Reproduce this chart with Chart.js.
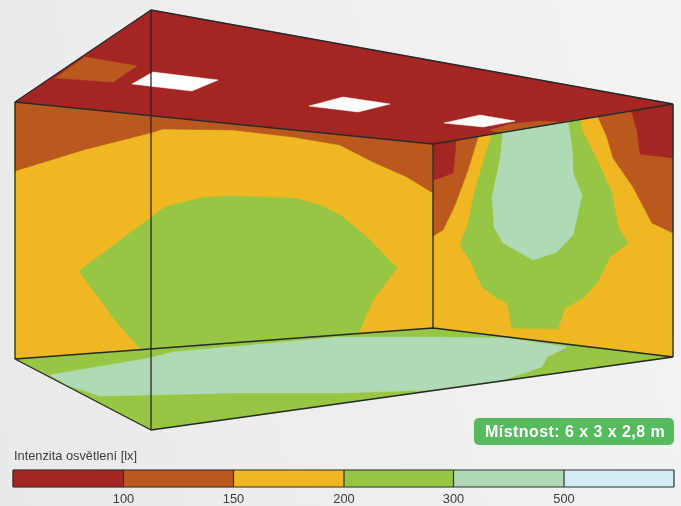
<!DOCTYPE html>
<html>
<head>
<meta charset="utf-8">
<style>
  html, body { margin: 0; padding: 0; }
  body { width: 681px; height: 506px; overflow: hidden; background: linear-gradient(75deg, #e9e9e9 0%, #eeeeee 45%, #f2f3f3 100%); }
  canvas { display: block; }
</style>
<script src="https://cdn.jsdelivr.net/npm/chart.js@4/dist/chart.umd.min.js"></script>
</head>
<body>
<canvas id="room" width="681" height="506"></canvas>
<script>
// illuminance zones, as [x, y] outlines in picture units
const ceiling = [[15,102],[151,10],[673,104],[433,144]];
const ceilingPatchLeft = [[85,57],[137,66],[113,82],[55,78]];
const ceilingPatchRight = [[490,130],[510,124],[540,121],[558,122],[500,133]];
const lampA = [[132,84],[153,72],[218,80],[192,91]];
const lampB = [[309,106],[343,97],[390,104],[358,112]];
const lampC = [[444,123],[480,115],[515,121],[483,127]];

const backWall = [[15,102],[433,144],[433,328],[15,359]];
const backOrange = [[15,102],[433,144],[433,193],[407,177],[373,162],[340,145],[293,137],[233,130],[163,129],[150,133],[83,150],[15,171]];
const backGreen = [[79,271],[150,218],[165,207],[200,198],[227,196],[293,198],[320,205],[340,215],[367,237],[397,268],[373,300],[357,336],[142,351],[115,320]];

const sideWall = [[433,144],[673,104],[673,357],[433,328]];
const sideOrangeLeft = [[433,144],[478,137],[468,170],[455,205],[443,230],[433,236]];
const sideRedLeft = [[433,144],[456,140],[455,155],[453,173],[434,180]];
const sideOrangeRight = [[598,117],[607,137],[613,158],[633,187],[652,223],[673,233],[673,104]];
const sideRedRight = [[631,110],[637,130],[640,154],[673,158],[673,104]];
const sideGreen = [[492,134],[483,163],[475,190],[468,223],[460,245],[470,260],[482,287],[497,298],[507,303],[512,328],[558,329],[565,308],[583,298],[597,283],[610,257],[628,243],[618,227],[612,193],[597,160],[582,130],[580,119]];
const sideLight = [[503,132],[500,160],[492,197],[494,227],[503,243],[533,260],[557,252],[573,235],[582,195],[573,173],[572,147],[568,122]];

const floorPlane = [[15,359],[433,328],[673,357],[151,430]];
const floorLight = [[50,375],[150,358],[173,352],[340,337],[433,337],[507,338],[567,347],[547,357],[542,367],[503,380],[433,390],[340,393],[233,393],[150,395],[100,396],[67,385]];

const roomEdges = [
  [[15,102],[151,10],[673,104],[433,144],[15,102],[15,359],[433,328],[673,357],[151,430],[15,359]],
  [[151,10],[151,430]],
  [[433,144],[433,328]],
  [[673,104],[673,357]]
];

const legendTitle = "Intenzita osvětlení [lx]";
const legendEdges = [13, 123.5, 233.5, 344, 453.5, 564, 674];
const legendTicks = ["100", "150", "200", "300", "500"];
const badgeText = "Místnost: 6 x 3 x 2,8 m";

const RED = "#a42622", ORANGE = "#b9591d", YELLOW = "#efb722", GREEN = "#97c644", LIGHT = "#b0dab6", PALE = "#d3ebf3";
const legendColors = [RED, ORANGE, YELLOW, GREEN, LIGHT, PALE];

function shape(points, color) {
  return {
    data: points.concat([points[0]]).map(p => ({ x: p[0], y: p[1] })),
    backgroundColor: color,
    borderColor: color,
    borderWidth: 0.5,
    pointRadius: 0,
    fill: "shape",
    tension: 0
  };
}

function edge(points, color, width) {
  return {
    data: points.map(p => ({ x: p[0], y: p[1] })),
    borderColor: color,
    borderWidth: width,
    borderJoinStyle: "bevel",
    pointRadius: 0,
    fill: false,
    tension: 0
  };
}

// painted back to front
const layers = [
  shape(ceiling, RED),
  shape(ceilingPatchLeft, ORANGE),
  shape(ceilingPatchRight, ORANGE),
  shape(lampA, "#ffffff"),
  shape(lampB, "#ffffff"),
  shape(lampC, "#ffffff"),
  shape(backWall, YELLOW),
  shape(backOrange, ORANGE),
  shape(backGreen, GREEN),
  shape(sideWall, YELLOW),
  shape(sideOrangeRight, ORANGE),
  shape(sideRedRight, RED),
  shape(sideOrangeLeft, ORANGE),
  shape(sideRedLeft, RED),
  shape(sideGreen, GREEN),
  shape(sideLight, LIGHT),
  shape(floorPlane, GREEN),
  shape(floorLight, LIGHT)
];

roomEdges.forEach(e => layers.push(edge(e, "#26282a", 1.3)));

legendColors.forEach((c, i) => {
  const a = legendEdges[i], b = legendEdges[i + 1];
  layers.push(shape([[a,470],[b,470],[b,487],[a,487]], c));
});
legendEdges.forEach(x => layers.push(edge([[x,470],[x,487]], "#333333", 1.2)));
layers.push(edge([[13,470],[674,470]], "#333333", 1.2));
layers.push(edge([[13,487],[674,487]], "#333333", 1.2));

const roomLabels = {
  id: "roomLabels",
  afterDraw(chart) {
    const { ctx, scales } = chart;
    const px = v => scales.x.getPixelForValue(v);
    const py = v => scales.y.getPixelForValue(v);
    ctx.save();
    ctx.fillStyle = "#55bb5e";
    ctx.beginPath();
    ctx.roundRect(px(474), py(418), px(674) - px(474), py(445) - py(418), 5);
    ctx.fill();
    ctx.textBaseline = "alphabetic";
    ctx.fillStyle = "#ffffff";
    ctx.font = "bold 16px 'Liberation Sans'";
    ctx.letterSpacing = "0.45px";
    ctx.textAlign = "left";
    ctx.fillText(badgeText, px(485), py(437));
    ctx.letterSpacing = "0px";
    ctx.fillStyle = "#3c3c3c";
    ctx.font = "12.8px 'Liberation Sans'";
    ctx.fillText(legendTitle, px(14), py(460));
    ctx.textAlign = "center";
    legendTicks.forEach((t, i) => ctx.fillText(t, px(legendEdges[i + 1]), py(503)));
    ctx.restore();
  }
};

new Chart(document.getElementById("room"), {
  type: "line",
  data: { datasets: layers.reverse() },
  plugins: [roomLabels],
  options: {
    responsive: false,
    animation: false,
    layout: { padding: 0 },
    plugins: { legend: { display: false }, tooltip: { enabled: false } },
    scales: {
      x: { type: "linear", min: 0, max: 681, display: false },
      y: { type: "linear", min: 0, max: 506, reverse: true, display: false }
    }
  }
});
</script>
</body>
</html>
